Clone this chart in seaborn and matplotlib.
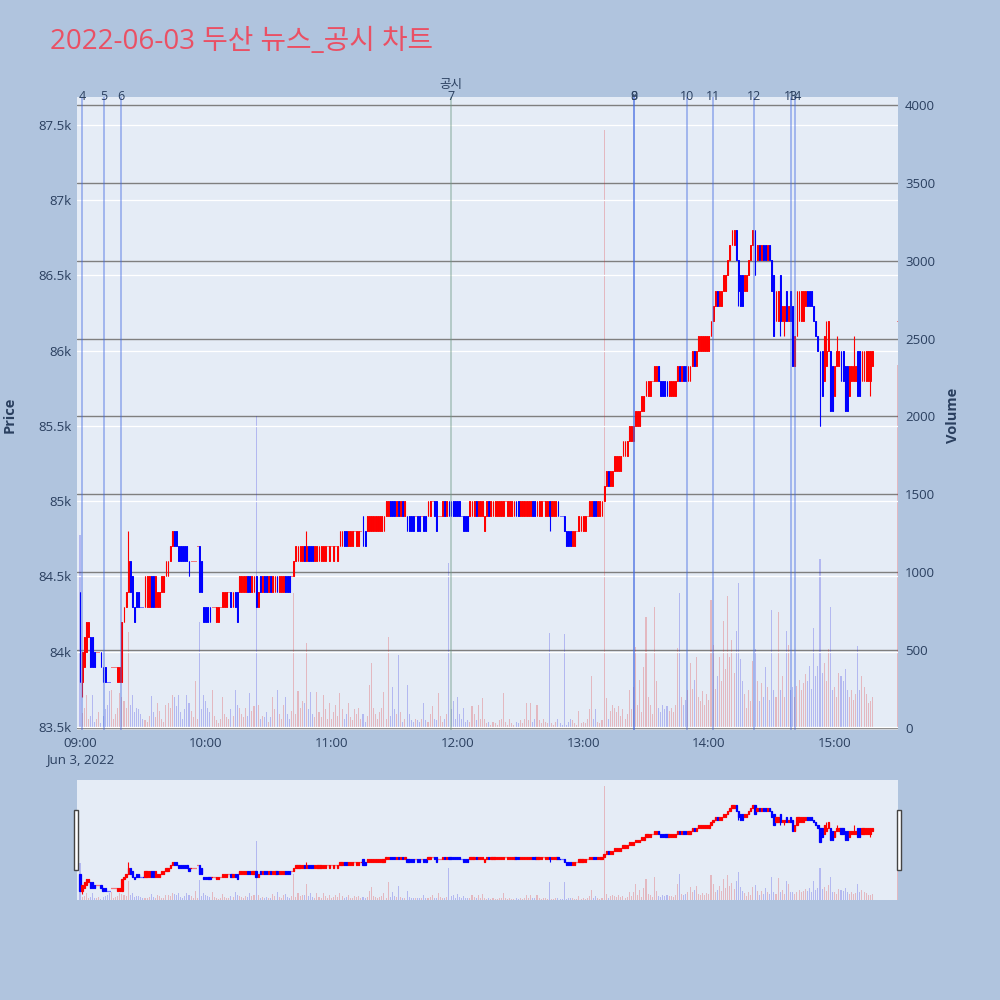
import seaborn as sns
import matplotlib.pyplot as plt
import matplotlib.transforms as mtransforms
from matplotlib.patches import Rectangle
import numpy as np
import pandas as pd

# ---- data: one-minute candles, prices in units of 100 won ----
open_09 = [844, 838, 839, 840, 841, 841, 841, 840, 840, 840,
           840, 839, 839, 838, 838, 839, 839, 839, 838, 838,
           838, 842, 843, 844, 846, 845, 843, 844, 844, 843,
           843, 843, 843, 843, 845, 845, 843, 843, 843, 844,
           844, 845, 845, 846, 847, 848, 848, 847, 847, 847,
           847, 847, 846, 846, 846, 846, 847, 847, 846, 843]
close_09 = [838, 840, 841, 842, 842, 839, 839, 839, 840, 840,
            839, 838, 838, 838, 838, 839, 839, 839, 839, 839,
            842, 843, 844, 846, 844, 843, 842, 843, 843, 843,
            843, 845, 845, 845, 843, 843, 845, 844, 844, 845,
            845, 846, 846, 847, 848, 847, 847, 846, 846, 846,
            846, 846, 845, 846, 846, 846, 847, 844, 844, 842]
open_10 = [843, 843, 843, 843, 843, 842, 842, 843, 843, 843,
           843, 844, 844, 843, 844, 844, 844, 844, 844, 844,
           845, 845, 844, 844, 845, 843, 845, 844, 845, 845,
           844, 845, 844, 844, 845, 844, 844, 844, 845, 845,
           845, 845, 845, 846, 846, 846, 846, 847, 846, 847,
           847, 847, 846, 846, 846, 846, 846, 846, 847, 846]
close_10 = [842, 842, 842, 843, 843, 843, 843, 843, 844, 844,
            844, 844, 843, 844, 843, 842, 845, 845, 845, 845,
            844, 844, 845, 845, 843, 844, 844, 845, 844, 844,
            845, 844, 845, 845, 844, 845, 845, 845, 844, 844,
            844, 845, 846, 847, 847, 847, 847, 846, 847, 846,
            846, 846, 847, 847, 847, 847, 847, 847, 847, 847]
open_11 = [847, 846, 847, 846, 847, 847, 848, 848, 847, 847,
           847, 848, 847, 847, 848, 849, 848, 848, 848, 848,
           848, 848, 848, 848, 848, 848, 849, 849, 850, 850,
           850, 849, 850, 849, 850, 849, 849, 849, 849, 849,
           849, 849, 849, 849, 849, 849, 849, 849, 850, 850,
           850, 849, 849, 849, 850, 849, 850, 850, 850, 850]
close_11 = [847, 847, 847, 847, 848, 848, 847, 847, 848, 848,
            848, 848, 848, 848, 848, 847, 847, 849, 849, 849,
            849, 849, 849, 849, 849, 849, 850, 850, 849, 849,
            849, 850, 849, 850, 849, 850, 848, 848, 848, 848,
            849, 848, 848, 849, 848, 848, 850, 850, 850, 849,
            848, 849, 849, 850, 849, 850, 849, 849, 849, 849]
open_12 = [850, 850, 849, 849, 849, 849, 849, 849, 849, 850,
           849, 849, 849, 848, 849, 850, 849, 849, 849, 849,
           849, 849, 849, 850, 849, 849, 849, 849, 850, 850,
           849, 849, 849, 849, 849, 849, 850, 850, 849, 849,
           849, 850, 849, 849, 850, 849, 849, 849, 850, 849,
           849, 849, 848, 848, 848, 847, 847, 848, 848, 848]
close_12 = [849, 849, 849, 848, 848, 848, 850, 850, 850, 849,
            850, 850, 850, 849, 850, 849, 850, 850, 850, 850,
            850, 850, 850, 850, 850, 850, 850, 850, 849, 849,
            850, 850, 850, 850, 850, 850, 849, 849, 850, 850,
            850, 850, 850, 850, 849, 850, 850, 850, 849, 849,
            849, 848, 847, 847, 847, 848, 848, 848, 849, 849]
open_13 = [848, 848, 849, 849, 849, 850, 850, 849, 849, 849,
           850, 851, 852, 851, 851, 852, 852, 852, 852, 853,
           853, 853, 854, 854, 854, 855, 855, 855, 856, 856,
           857, 857, 857, 858, 858, 858, 859, 858, 858, 858,
           858, 857, 857, 857, 857, 858, 859, 858, 859, 859,
           858, 858, 859, 860, 859, 860, 860, 860, 860, 860]
close_13 = [849, 849, 849, 850, 850, 849, 849, 850, 850, 850,
            851, 852, 851, 852, 852, 853, 853, 853, 853, 854,
            854, 854, 855, 855, 855, 856, 856, 856, 857, 857,
            858, 858, 858, 858, 859, 859, 858, 857, 857, 857,
            857, 858, 858, 858, 858, 859, 858, 859, 858, 858,
            859, 859, 860, 859, 860, 861, 861, 861, 861, 861]
open_14 = [860, 861, 862, 863, 864, 863, 863, 864, 864, 865,
           866, 867, 867, 868, 866, 865, 865, 864, 864, 865,
           866, 867, 868, 866, 867, 866, 867, 867, 866, 867,
           866, 865, 862, 862, 865, 862, 862, 864, 862, 864,
           863, 859, 861, 862, 862, 862, 863, 864, 864, 864,
           863, 862, 861, 860, 860, 858, 859, 860, 860, 859]
close_14 = [861, 862, 863, 864, 863, 864, 864, 865, 865, 866,
            867, 868, 868, 866, 864, 863, 863, 865, 865, 866,
            867, 868, 865, 867, 866, 867, 866, 866, 867, 866,
            864, 861, 864, 864, 862, 863, 863, 862, 863, 862,
            859, 861, 864, 864, 864, 864, 864, 863, 863, 863,
            862, 861, 860, 855, 857, 861, 860, 862, 856, 856]
open_15 = [857, 859, 859, 860, 860, 859, 859, 857, 858, 858,
           858, 860, 860, 858, 858, 858, 858, 858, 859]
close_15 = [859, 860, 860, 858, 858, 856, 856, 859, 859, 859,
            859, 857, 857, 860, 860, 860, 860, 860, 860]

# wicks that reach beyond the candle body (minute index -> price level)
wick_high = {23: 848, 108: 848, 356: 862, 361: 861, 369: 861}
wick_low = {1: 837, 224: 848, 314: 863, 334: 861, 336: 861, 377: 857}

# volume per minute
vol_09 = [1240, 95, 130, 210, 60, 80, 210, 40, 60, 100,
          30, 80, 120, 150, 235, 245, 60, 90, 130, 225,
          200, 170, 130, 615, 150, 210, 100, 130, 120, 90,
          60, 50, 40, 80, 205, 100, 70, 160, 110, 60,
          40, 150, 160, 130, 210, 200, 140, 210, 100, 60,
          120, 210, 160, 110, 70, 300, 60, 680, 120, 210]
vol_10 = [170, 130, 100, 245, 80, 50, 30, 60, 200, 90,
          70, 60, 120, 80, 245, 150, 130, 90, 70, 130,
          80, 225, 110, 140, 2000, 150, 60, 80, 70, 100,
          40, 70, 200, 120, 245, 90, 60, 150, 200, 90,
          60, 110, 866, 90, 240, 130, 170, 160, 545, 120,
          230, 90, 70, 230, 100, 70, 210, 120, 60, 160]
vol_11 = [60, 100, 150, 80, 225, 120, 60, 90, 160, 70,
          50, 120, 90, 130, 60, 90, 40, 80, 275, 420,
          130, 90, 60, 100, 130, 230, 60, 585, 80, 260,
          120, 90, 470, 100, 40, 60, 275, 90, 50, 40,
          60, 50, 40, 60, 160, 50, 40, 90, 140, 60,
          50, 225, 80, 40, 60, 90, 1060, 120, 170, 60]
vol_12 = [200, 90, 60, 130, 40, 50, 40, 140, 90, 50,
          150, 60, 195, 60, 30, 40, 20, 40, 30, 20,
          50, 60, 225, 40, 20, 60, 30, 20, 40, 30,
          50, 30, 60, 160, 50, 160, 40, 60, 150, 50,
          30, 60, 40, 30, 610, 30, 20, 40, 60, 30,
          20, 605, 20, 40, 60, 50, 30, 20, 110, 30]
vol_13 = [40, 30, 60, 120, 335, 60, 125, 40, 30, 50,
          3840, 190, 60, 110, 150, 130, 100, 140, 80, 120,
          60, 90, 245, 120, 260, 520, 150, 310, 100, 390,
          710, 200, 150, 90, 775, 300, 130, 100, 150, 120,
          140, 110, 130, 100, 150, 515, 865, 200, 150, 180,
          245, 420, 250, 310, 455, 200, 170, 240, 150, 220]
vol_14 = [180, 820, 530, 250, 335, 455, 300, 690, 380, 850,
          455, 565, 350, 620, 930, 440, 300, 220, 130, 245,
          170, 430, 510, 300, 170, 290, 200, 390, 260, 180,
          760, 245, 200, 745, 245, 335, 200, 620, 530, 245,
          260, 200, 270, 310, 245, 290, 345, 300, 400, 250,
          640, 335, 400, 1085, 350, 420, 300, 510, 775, 245]
vol_15 = [260, 200, 350, 335, 300, 380, 245, 200, 245, 180,
          220, 525, 245, 335, 260, 220, 160, 170, 200]

# closing single-price auction
close_time = '15:30'
close_price = 862
close_volume = 2330

# news / disclosure markers
event_labels = ['4', '5', '6', '7', '8', '9', '10', '11', '12', '13', '14']
event_times = ['09:01:00', '09:11:25', '09:19:33', '11:56:55', '13:24:10', '13:24:10',
               '13:49:30', '14:01:55', '14:21:25', '14:39:05', '14:41:00']
disclosure_label = '공시'
disclosure_index = 3

title = '2022-06-03 두산 뉴스_공시 차트'


def to_minutes(t):
    parts = [int(p) for p in t.split(':')]
    while len(parts) < 3:
        parts.append(0)
    return (parts[0] - 9) * 60 + parts[1] + parts[2] / 60


opens = np.concatenate([open_09, open_10, open_11, open_12, open_13, open_14, open_15, [close_price]]) * 100
closes = np.concatenate([close_09, close_10, close_11, close_12, close_13, close_14, close_15, [close_price]]) * 100
volumes = np.concatenate([vol_09, vol_10, vol_11, vol_12, vol_13, vol_14, vol_15, [close_volume]])
minutes = np.append(np.arange(len(opens) - 1), to_minutes(close_time))

highs = np.maximum(opens, closes).astype(float)
lows = np.minimum(opens, closes).astype(float)
for k, v in wick_high.items():
    highs[k] = v * 100
for k, v in wick_low.items():
    lows[k] = v * 100

# candle direction (plotly style: flat candles compare with previous close)
dirs = []
prev_close, prev_dir = None, 'down'
for o, c in zip(opens, closes):
    if c > o:
        d = 'up'
    elif c < o:
        d = 'down'
    elif prev_close is not None and c > prev_close:
        d = 'up'
    elif prev_close is not None and c < prev_close:
        d = 'down'
    else:
        d = prev_dir
    dirs.append(d)
    prev_close, prev_dir = c, d

df = pd.DataFrame({'minute': minutes, 'open': opens, 'close': closes,
                   'high': highs, 'low': lows, 'volume': volumes, 'dir': dirs})

RED, BLUE = '#FF0000', '#0000FF'
colors = {'up': RED, 'down': BLUE}
PANEL = '#E5ECF6'
TEXT = '#2a3f5f'

sns.set_theme(style='darkgrid', rc={'axes.facecolor': PANEL, 'figure.facecolor': '#B0C4DE',
                                    'grid.color': 'white'})
plt.rcParams['font.family'] = ['Open Sans', 'Noto Sans CJK KR', 'DejaVu Sans']

XMIN, XMAX = -1.43, 390.2
PMIN, PMAX = 83480, 87686
VMIN, VMAX = -13, 4051


def draw_chart(ax_p, ax_v, body_w, body_lw):
    # volume axis sits underneath and carries the panel background
    ax_p.set_zorder(ax_v.get_zorder() + 1)
    ax_p.patch.set_visible(False)
    ax_v.patch.set_visible(True)
    ax_v.patch.set_facecolor(PANEL)
    sns.barplot(data=df, x='minute', y='volume', hue='dir', palette=colors,
                native_scale=True, width=0.5, alpha=0.25, errorbar=None,
                legend=False, linewidth=0, ax=ax_v)
    cols = [colors[d] for d in df['dir']]
    ax_p.vlines(df['minute'], df['low'], df['high'], colors=cols, linewidth=0.8)
    ax_p.bar(df['minute'], (df['close'] - df['open']).abs(), bottom=df[['open', 'close']].min(axis=1),
             width=body_w, color=cols, edgecolor=cols, linewidth=body_lw)
    ax_p.set_xlim(XMIN, XMAX)
    ax_v.set_xlim(XMIN, XMAX)
    ax_p.set_ylim(PMIN, PMAX)
    ax_v.set_ylim(VMIN, VMAX)
    for a in (ax_p, ax_v):
        for s in a.spines.values():
            s.set_visible(False)
        a.set_xlabel('')
        a.set_ylabel('')


fig = plt.figure(figsize=(10, 10), dpi=100)
ax = fig.add_axes([0.077, 0.27, 0.821, 0.633])
ax2 = ax.twinx()
draw_chart(ax, ax2, 0.42, 0.7)

# grids and ticks
ax.grid(True, axis='y', color='white', linewidth=0.9)
ax.grid(False, axis='x')
ax2.grid(True, axis='y', color='#7f7f7f', linewidth=1.0)
ax2.grid(False, axis='x')

price_ticks = np.arange(83500, 87501, 500)
ax.set_yticks(price_ticks)
ax.set_yticklabels([f'{p / 1000:g}k' for p in price_ticks])
vol_ticks = np.arange(0, 4001, 500)
ax2.set_yticks(vol_ticks)
ax2.set_yticklabels([str(v) for v in vol_ticks])
hour_ticks = np.arange(0, 361, 60)
ax.set_xticks(hour_ticks)
ax.set_xticklabels(['09:00\nJun 3, 2022'] + [f'{9 + h // 60:02d}:00' for h in hour_ticks[1:]],
                   linespacing=1.3, va='top')
ax.tick_params(axis='y', colors=TEXT, labelsize=9.5, length=0, pad=4)
ax.tick_params(axis='x', colors=TEXT, labelsize=9.5, length=0, pad=5)
ax2.tick_params(axis='y', colors=TEXT, labelsize=9.5, length=0, pad=5)
ax2.tick_params(axis='x', length=0, labelbottom=False)

# event lines and labels
trans = mtransforms.blended_transform_factory(ax.transData, ax.transAxes)
for i, (lab, t) in enumerate(zip(event_labels, event_times)):
    m = to_minutes(t)
    line_col = '#6f9a86' if i == disclosure_index else 'royalblue'
    ax.axvline(m, color=line_col, alpha=0.45, linewidth=1.3, zorder=5)
    ax.text(m, 1.0015, lab, transform=trans, ha='center', va='center',
            fontsize=9, color=TEXT, zorder=6, clip_on=False)
    if i == disclosure_index:
        ax.text(m, 1.0205, disclosure_label, transform=trans, ha='center', va='center',
                fontsize=9, color=TEXT, zorder=6, clip_on=False)

# range slider
rs = fig.add_axes([0.077, 0.10, 0.821, 0.12])
rs2 = rs.twinx()
draw_chart(rs, rs2, 0.6, 0.9)
for a in (rs, rs2):
    a.grid(False)
    a.set_xticks([])
    a.set_yticks([])
for hx in (0.0735, 0.8965):
    fig.patches.append(Rectangle((hx, 0.13), 0.0045, 0.06, transform=fig.transFigure,
                                 facecolor='white', edgecolor='#444444', linewidth=1.0))

# titles
fig.text(0.05, 0.958, title, fontsize=20, color='#EA5064', ha='left', va='center')
fig.text(0.010, 0.585, 'Price', rotation=90, fontsize=10.5, fontweight='bold',
         color=TEXT, ha='center', va='center')
fig.text(0.953, 0.585, 'Volume', rotation=90, fontsize=10.5, fontweight='bold',
         color=TEXT, ha='center', va='center')

fig.savefig('out.png', dpi=100)
